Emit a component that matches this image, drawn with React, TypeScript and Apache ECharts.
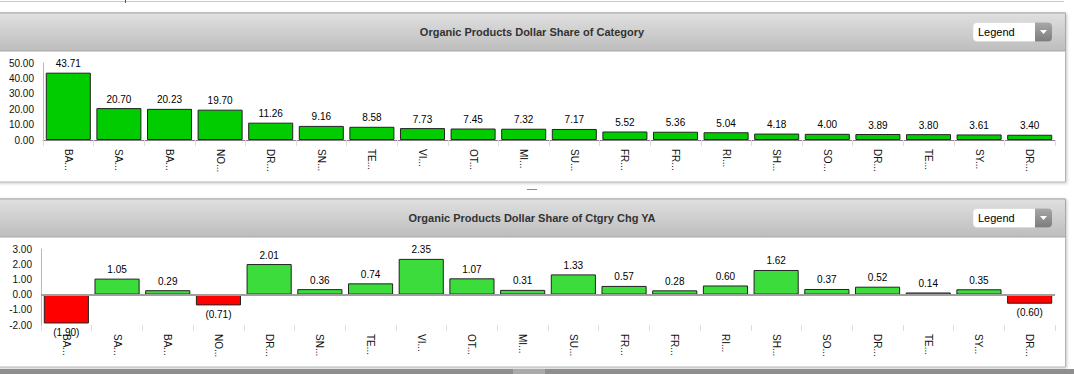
import React, { useEffect, useRef } from "react";
import * as echarts from "echarts";

const categories = [
  "BA...", "SA...", "BA...", "NO...", "DR...", "SN...", "TE...", "VI...", "OT...", "MI...",
  "SU...", "FR...", "FR...", "RI...", "SH...", "SO...", "DR...", "TE...", "SY...", "DR...",
];
const shareValues = [
  43.71, 20.7, 20.23, 19.7, 11.26, 9.16, 8.58, 7.73, 7.45, 7.32,
  7.17, 5.52, 5.36, 5.04, 4.18, 4.0, 3.89, 3.8, 3.61, 3.4,
];
const changeValues = [
  -1.9, 1.05, 0.29, -0.71, 2.01, 0.36, 0.74, 2.35, 1.07, 0.31,
  1.33, 0.57, 0.28, 0.6, 1.62, 0.37, 0.52, 0.14, 0.35, -0.6,
];
const topTitle = "Organic Products Dollar Share of Category";
const bottomTitle = "Organic Products Dollar Share of Ctgry Chg YA";
const legendText = "Legend";

const FONT = '"Liberation Sans", Arial, Helvetica, sans-serif';
const fmt = (v: number) => (v < 0 ? `(${Math.abs(v).toFixed(2)})` : v.toFixed(2));

function panel(y: number, h: number, title: string) {
  const headerH = 38;
  return [
    {
      type: "rect",
      z: 0,
      shape: { x: -1.5, y: y + 0.5, width: 1067, height: h },
      style: {
        fill: "#ffffff",
        stroke: "#b4b4b4",
        lineWidth: 1,
        shadowBlur: 3,
        shadowColor: "rgba(0,0,0,0.22)",
        shadowOffsetX: 1,
        shadowOffsetY: 1,
      },
    },
    {
      type: "rect",
      z: 1,
      shape: { x: -1.5, y: y + 0.5, width: 1067, height: headerH },
      style: {
        fill: new echarts.graphic.LinearGradient(0, 0, 0, 1, [
          { offset: 0, color: "#e0e0e0" },
          { offset: 1, color: "#bdbdbd" },
        ]),
        stroke: "#a9a9a9",
        lineWidth: 1,
      },
    },
    {
      type: "text",
      z: 2,
      x: 532,
      y: y + 19.5,
      style: {
        text: title,
        fontFamily: FONT,
        fontSize: 11,
        fontWeight: "bold",
        fill: "#333333",
        align: "center",
        verticalAlign: "middle",
      },
    },
    {
      type: "rect",
      z: 2,
      shape: { x: 973, y: y + 10, width: 79, height: 19, r: 4 },
      style: { fill: "#ffffff", stroke: "#d0d0d0", lineWidth: 0.5 },
    },
    {
      type: "rect",
      z: 3,
      shape: { x: 1035, y: y + 10, width: 17, height: 19, r: [0, 4, 4, 0] },
      style: {
        fill: new echarts.graphic.LinearGradient(0, 0, 0, 1, [
          { offset: 0, color: "#a8a8a8" },
          { offset: 1, color: "#7c7c7c" },
        ]),
      },
    },
    {
      type: "polygon",
      z: 4,
      shape: { points: [[1040, y + 17.5], [1047, y + 17.5], [1043.5, y + 21.5]] },
      style: { fill: "#ffffff" },
    },
    {
      type: "text",
      z: 4,
      x: 978,
      y: y + 19.5,
      style: {
        text: legendText,
        fontFamily: FONT,
        fontSize: 11,
        fill: "#000000",
        align: "left",
        verticalAlign: "middle",
      },
    },
  ];
}

export default function App() {
  const ref = useRef<HTMLDivElement>(null);

  useEffect(() => {
    if (!ref.current) return;
    const chart = echarts.init(ref.current, undefined, { renderer: "svg" });

    const graphics: any[] = [
      {
        type: "line",
        z: 0,
        shape: { x1: 0, y1: 1.5, x2: 1064, y2: 1.5 },
        style: { stroke: "#c8c8c8", lineWidth: 1 },
      },
      {
        type: "line",
        z: 0,
        shape: { x1: 125.5, y1: 0, x2: 125.5, y2: 3 },
        style: { stroke: "#555555", lineWidth: 1 },
      },
      ...panel(12.5, 169, topTitle),
      ...panel(198.5, 168, bottomTitle),
      {
        type: "line",
        z: 0,
        shape: { x1: 527, y1: 189.5, x2: 537, y2: 189.5 },
        style: { stroke: "#8a8a8a", lineWidth: 1 },
      },
      {
        type: "rect",
        z: 0,
        shape: { x: 0, y: 369, width: 1074, height: 5 },
        style: { fill: "#8e8e8e" },
      },
      {
        type: "rect",
        z: 1,
        shape: { x: 513, y: 369, width: 32, height: 5 },
        style: { fill: "#aaaaaa" },
      },
    ];

    const xAxisBase = {
      type: "category",
      data: categories,
      axisTick: { show: true, length: 6, lineStyle: { color: "#dcdcdc" } },
      axisLabel: {
        rotate: -90,
        interval: 0,
        fontSize: 10,
        fontFamily: FONT,
        color: "#111111",
        margin: 9,
      },
      splitLine: { show: false },
    };
    const yAxisBase = {
      type: "value",
      axisLine: { show: true, lineStyle: { color: "#b8b8b8" } },
      axisTick: { show: false },
      splitLine: { show: false },
      axisLabel: {
        fontSize: 10,
        fontFamily: FONT,
        color: "#111111",
        margin: 9,
        formatter: (v: number) => v.toFixed(2),
      },
    };

    chart.setOption({
      animation: false,
      textStyle: { fontFamily: FONT },
      graphic: { elements: graphics },
      grid: [
        { left: 43, top: 63, width: 1012, height: 77 },
        { left: 41, top: 249, width: 1014, height: 76 },
      ],
      xAxis: [
        {
          ...xAxisBase,
          gridIndex: 0,
          axisLine: { show: true, lineStyle: { color: "#8a7a8a" } },
        },
        {
          ...xAxisBase,
          gridIndex: 1,
          position: "bottom",
          axisLine: { show: false, onZero: false },
        },
      ],
      yAxis: [
        { ...yAxisBase, gridIndex: 0, min: 0, max: 50, interval: 10 },
        { ...yAxisBase, gridIndex: 1, min: -2, max: 3, interval: 1 },
      ],
      series: [
        {
          type: "bar",
          xAxisIndex: 0,
          yAxisIndex: 0,
          data: shareValues,
          barCategoryGap: "11%",
          itemStyle: { color: "#00cc00", borderColor: "#222222", borderWidth: 1 },
          label: {
            show: true,
            position: "top",
            distance: 4,
            fontSize: 10,
            fontFamily: FONT,
            color: "#000000",
            formatter: (p: any) => fmt(p.value),
          },
        },
        {
          type: "bar",
          xAxisIndex: 1,
          yAxisIndex: 1,
          barCategoryGap: "11%",
          data: changeValues.map((v) => ({
            value: v,
            itemStyle: { color: v < 0 ? "#ff0000" : "#3cdc3c" },
            label: { position: v < 0 ? "bottom" : "top" },
          })),
          itemStyle: { borderColor: "#222222", borderWidth: 1 },
          label: {
            show: true,
            distance: 4,
            fontSize: 10,
            fontFamily: FONT,
            color: "#000000",
            formatter: (p: any) => fmt(p.value),
          },
          markLine: {
            silent: true,
            symbol: "none",
            label: { show: false },
            lineStyle: { color: "#a0a0a0", width: 2, type: "solid" },
            data: [{ yAxis: 0 }],
          },
        },
      ],
    });

    return () => chart.dispose();
  }, []);

  return (
    <div
      ref={ref}
      style={{ position: "fixed", left: 0, top: 0, width: 1074, height: 374, background: "#ffffff" }}
    />
  );
}
